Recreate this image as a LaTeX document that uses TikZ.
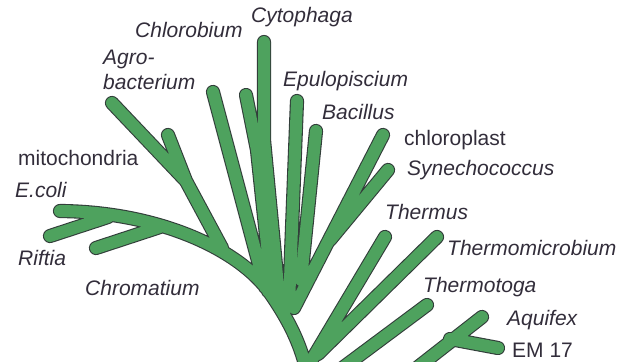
\documentclass[tikz,border=0pt]{standalone}
\usepackage{fontspec}
\setmainfont{Liberation Sans}
\definecolor{treegreen}{RGB}{78,162,94}
\definecolor{treeedge}{RGB}{50,62,58}
\definecolor{labelgray}{RGB}{50,45,58}
\begin{document}
\begin{tikzpicture}[x=1pt,y=-1pt,
  lbl/.style={anchor=base west, inner sep=0pt, text=labelgray, font=\fontsize{21}{24}\selectfont\itshape},
  lblup/.style={anchor=base west, inner sep=0pt, text=labelgray, font=\fontsize{21}{24}\selectfont\upshape},
  outer/.style={draw=treeedge, line width=14.2pt, line cap=round, line join=round},
  inner/.style={draw=treegreen, line width=12pt, line cap=round, line join=round}]
\useasboundingbox (0,0) rectangle (625,362);
% tips and joins
\coordinate (ecoli) at (60,211);
\coordinate (bend) at (270,293);
\coordinate (trunkend) at (308,378);
\coordinate (blobA) at (268,291);
\coordinate (blobB) at (292,307);
\coordinate (riftia) at (50,236);
\coordinate (riftiaj) at (108,217);
\coordinate (chromatium) at (96,248);
\coordinate (chromj) at (160,227);
\coordinate (agro) at (112,103);
\coordinate (agroj) at (186,181);
\coordinate (agroend) at (222,248);
\coordinate (mito) at (168,135);
\coordinate (chlorobium) at (213,92);
\coordinate (chlorobiumj) at (265,287);
\coordinate (cytophaga) at (264,42);
\coordinate (cytok) at (264,140);
\coordinate (cytophagaj) at (279,297);
\coordinate (cytosub) at (246,95);
\coordinate (cytosubk) at (257,150);
\coordinate (cytosubj) at (272,292);
\coordinate (epulo) at (297,101);
\coordinate (epuloj) at (289,305);
\coordinate (bacillus) at (316,131);
\coordinate (bacillusj) at (301,280);
\coordinate (chloroplast) at (383,135);
\coordinate (chloroplastj) at (294,308);
\coordinate (synecho) at (388,170);
\coordinate (synj) at (330,240);
\coordinate (thermus) at (385,237);
\coordinate (thermusend) at (301,378);
\coordinate (thermomicro) at (437,237);
\coordinate (tmj) at (318,354);
\coordinate (thermotoga) at (427,305);
\coordinate (ttend) at (329,378);
\coordinate (aquifex) at (482,317);
\coordinate (aqend) at (404,378);
\coordinate (em) at (498,348);
\coordinate (emj) at (450,339);
\begin{scope}
\clip (0,0) rectangle (625,362);
\foreach \st in {outer,inner}{
  \path[\st] (ecoli) .. controls (160,212) and (240,250) .. (bend)
      .. controls (288,319) and (302,345) .. (trunkend)
    (blobA) -- (blobB)
    (riftia) -- (riftiaj)
    (chromatium) -- (chromj)
    (agro) -- (agroj) -- (agroend)
    (mito) -- (agroj)
    (chlorobium) -- (chlorobiumj)
    (cytophaga) -- (cytok) -- (cytophagaj)
    (cytosub) -- (cytosubk) -- (cytosubj)
    (epulo) -- (epuloj)
    (bacillus) -- (bacillusj)
    (chloroplast) -- (chloroplastj)
    (synecho) -- (synj)
    (thermus) -- (thermusend)
    (thermomicro) -- (tmj)
    (thermotoga) -- (ttend)
    (aquifex) -- (aqend)
    (em) -- (emj);
}
\end{scope}
% labels
\node[lbl] (tCytophaga) at (251,22) {Cytophaga};
\node[lbl] (tChlorobium) at (135,37) {Chlorobium};
\node[lbl] (tAgroA) at (103,64) {Agro-};
\node[lbl] (tAgroB) at (103,89) {bacterium};
\node[lbl] (tEpulo) at (283,86) {Epulopiscium};
\node[lbl] (tBacillus) at (322,119) {Bacillus};
\node[lblup] (tChloroplast) at (404,145) {chloroplast};
\node[lbl] (tSynecho) at (407,175) {Synechococcus};
\node[lblup] (tMito) at (18,165) {mitochondria};
\node[lbl] (tEcoli) at (15,197) {E.coli};
\node[lbl] (tRiftia) at (18,265) {Riftia};
\node[lbl] (tChromatium) at (85,295) {Chromatium};
\node[lbl] (tThermus) at (385,219) {Thermus};
\node[lbl] (tThermomicro) at (447,255) {Thermomicrobium};
\node[lbl] (tThermotoga) at (423,292) {Thermotoga};
\node[lbl] (tAquifex) at (507,325) {Aquifex};
\node[lblup] (tEM) at (512,357) {EM 17};
\end{tikzpicture}
\end{document}
